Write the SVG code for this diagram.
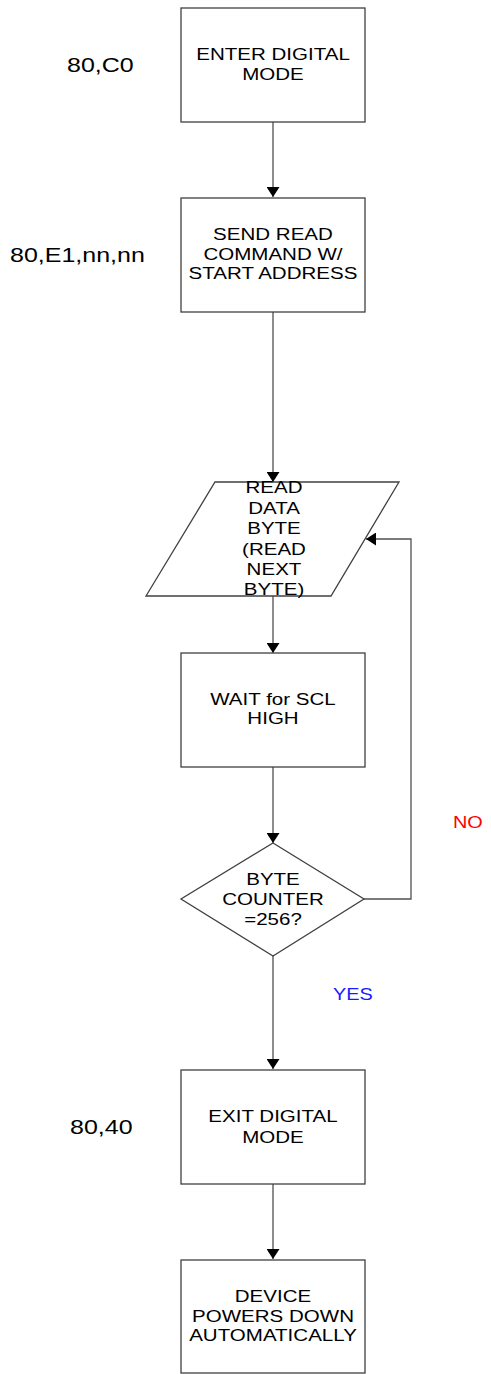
<svg xmlns="http://www.w3.org/2000/svg" width="491" height="1374" viewBox="0 0 491 1374">
<style>
.box{fill:#fff;stroke:#404040;stroke-width:1.3}
.con{fill:none;stroke:#505050;stroke-width:1.3}
.t{font-family:"Liberation Sans",Arial,sans-serif;font-size:16.3px;text-anchor:middle;fill:#000}
.lbl{font-family:"Liberation Sans",Arial,sans-serif;font-size:20.5px;fill:#000}
.no{font-family:"Liberation Sans",Arial,sans-serif;font-size:16.3px;fill:#ff0000}
.yes{font-family:"Liberation Sans",Arial,sans-serif;font-size:16.3px;fill:#1a1aff}
</style>
<defs>
<marker id="arr" viewBox="0 0 10 13" refX="10" refY="6.5" markerWidth="10" markerHeight="13" markerUnits="userSpaceOnUse" orient="auto">
<path d="M0,0 L10,6.5 L0,13 z" fill="#000"/>
</marker>
</defs>
<rect width="491" height="1374" fill="#fff"/>
<g id="connectors">
<line class="con" x1="273" y1="122" x2="273" y2="197" marker-end="url(#arr)"/>
<line class="con" x1="273" y1="312" x2="273" y2="482" marker-end="url(#arr)"/>
<line class="con" x1="273" y1="596" x2="273" y2="653" marker-end="url(#arr)"/>
<line class="con" x1="273" y1="767" x2="273" y2="843" marker-end="url(#arr)"/>
<polyline class="con" points="364,899 411,899 411,539 366,539" marker-end="url(#arr)"/>
<line class="con" x1="273" y1="956" x2="273" y2="1069" marker-end="url(#arr)"/>
<line class="con" x1="273" y1="1184" x2="273" y2="1259" marker-end="url(#arr)"/>
<text class="no" transform="matrix(1.22 0 0 1 453 0)" x="0" y="828">NO</text>
<text class="yes" transform="matrix(1.22 0 0 1 333 0)" x="0" y="1000">YES</text>
</g>
<g id="n1">
<rect class="box" x="181" y="8" width="184" height="114"/>
<text class="t" transform="matrix(1.26 0 0 1 273 0)"><tspan x="0" y="60">ENTER DIGITAL</tspan><tspan x="0" y="80">MODE</tspan></text>
<text class="lbl" transform="matrix(1.22 0 0 1 67 0)" x="0" y="72">80,C0</text>
</g>
<g id="n2">
<rect class="box" x="181" y="198" width="184" height="114"/>
<text class="t" transform="matrix(1.26 0 0 1 273 0)"><tspan x="0" y="240">SEND READ</tspan><tspan x="0" y="260">COMMAND W/</tspan><tspan x="0" y="279">START ADDRESS</tspan></text>
<text class="lbl" transform="matrix(1.22 0 0 1 10 0)" x="0" y="262">80,E1,nn,nn</text>
</g>
<g id="n3">
<polygon class="box" points="215,482 399,482 331,596 146,596"/>
<text class="t" transform="matrix(1.26 0 0 1 274 0)"><tspan x="0" y="493">READ</tspan><tspan x="0" y="514">DATA</tspan><tspan x="0" y="534">BYTE</tspan><tspan x="0" y="555">(READ</tspan><tspan x="0" y="575">NEXT</tspan><tspan x="0" y="595">BYTE)</tspan></text>
</g>
<g id="n4">
<rect class="box" x="181" y="653" width="184" height="114"/>
<text class="t" transform="matrix(1.26 0 0 1 273 0)"><tspan x="0" y="705">WAIT for SCL</tspan><tspan x="0" y="724">HIGH</tspan></text>
</g>
<g id="n5">
<polygon class="box" points="273,843 364,899 273,956 181,899"/>
<text class="t" transform="matrix(1.26 0 0 1 273 0)"><tspan x="0" y="885">BYTE</tspan><tspan x="0" y="905">COUNTER</tspan><tspan x="0" y="925">=256?</tspan></text>
</g>
<g id="n6">
<rect class="box" x="181" y="1070" width="184" height="114"/>
<text class="t" transform="matrix(1.26 0 0 1 273 0)"><tspan x="0" y="1122">EXIT DIGITAL</tspan><tspan x="0" y="1143">MODE</tspan></text>
<text class="lbl" transform="matrix(1.22 0 0 1 70 0)" x="0" y="1134">80,40</text>
</g>
<g id="n7">
<rect class="box" x="181" y="1260" width="184" height="113"/>
<text class="t" transform="matrix(1.26 0 0 1 273 0)"><tspan x="0" y="1302">DEVICE</tspan><tspan x="0" y="1322">POWERS DOWN</tspan><tspan x="0" y="1341">AUTOMATICALLY</tspan></text>
</g>
</svg>
